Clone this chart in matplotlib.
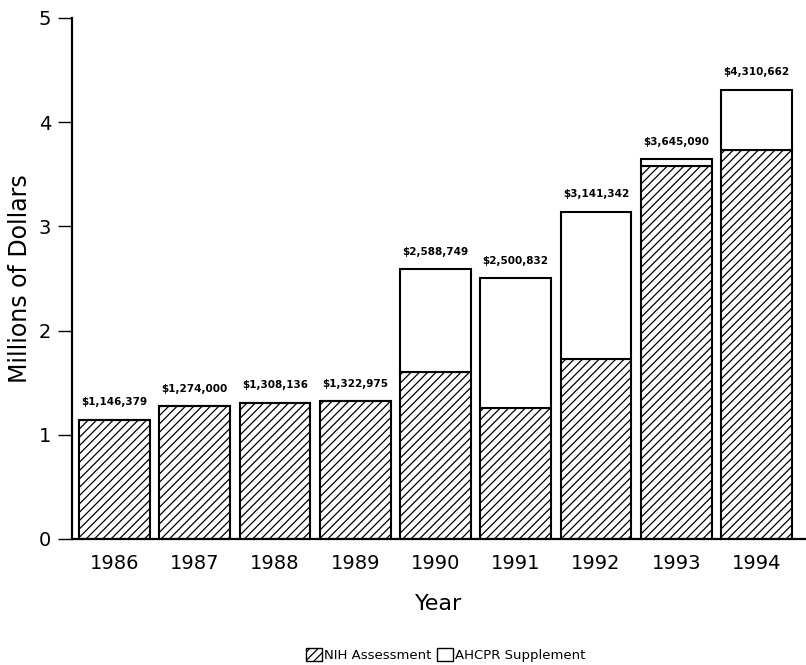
import matplotlib.pyplot as plt
from matplotlib.patches import Patch
import numpy as np

plt.rcParams['font.family'] = ['DejaVu Sans']
plt.rcParams['hatch.linewidth'] = 0.9

# Data (millions of dollars)
years = ['1986', '1987', '1988', '1989', '1990', '1991', '1992', '1993', '1994']
totals = [1.146379, 1.274000, 1.308136, 1.322975, 2.588749, 2.500832, 3.141342, 3.645090, 4.310662]
nih = [1.146379, 1.274000, 1.308136, 1.322975, 1.60, 1.26, 1.73, 3.58, 3.73]
total_labels = ['$1,146,379', '$1,274,000', '$1,308,136', '$1,322,975', '$2,588,749',
                '$2,500,832', '$3,141,342', '$3,645,090', '$4,310,662']

ahcpr = [t - n for t, n in zip(totals, nih)]
x = np.arange(len(years))

fig = plt.figure(figsize=(8.06, 6.65), dpi=100)
ax = fig.add_axes([0.0893, 0.1895, 0.909, 0.7835])

bar_w = 0.88
ax.bar(x, nih, width=bar_w, facecolor='white', edgecolor='black', hatch='////', linewidth=1.5)
ax.bar(x, ahcpr, bottom=nih, width=bar_w, facecolor='white', edgecolor='black', linewidth=1.5)

# total labels above each bar
for xi, t, lbl in zip(x, totals, total_labels):
    ax.annotate(lbl, (xi, t), xytext=(0, 9), textcoords='offset points',
                ha='center', va='bottom', fontsize=7.5, fontweight='bold')

ax.set_xlim(-0.53, 8.6)
ax.set_ylim(0, 5)
ax.set_yticks([0, 1, 2, 3, 4, 5])
ax.set_xticks(x)
ax.set_xticklabels(years, fontsize=14)
ax.tick_params(axis='y', labelsize=14, length=10, width=1, pad=5)
ax.tick_params(axis='x', length=0, pad=11)

ax.spines['top'].set_visible(False)
ax.spines['right'].set_visible(False)
ax.spines['left'].set_linewidth(1.6)
ax.spines['bottom'].set_linewidth(1.6)

ax.set_ylabel('Millions of Dollars', fontsize=17, labelpad=5)
ax.set_xlabel('Year', fontsize=16, labelpad=15)

handles = [Patch(facecolor='white', edgecolor='black', hatch='////', linewidth=1, label='NIH Assessment'),
           Patch(facecolor='white', edgecolor='black', linewidth=1, label='AHCPR Supplement')]
fig.legend(handles=handles, loc='center', bbox_to_anchor=(0.553, 0.015), ncol=2, frameon=False,
           fontsize=9.5, handlelength=1.2, handleheight=1.2, handletextpad=0.2, columnspacing=0.4)

fig.savefig('out.png', dpi=100)
